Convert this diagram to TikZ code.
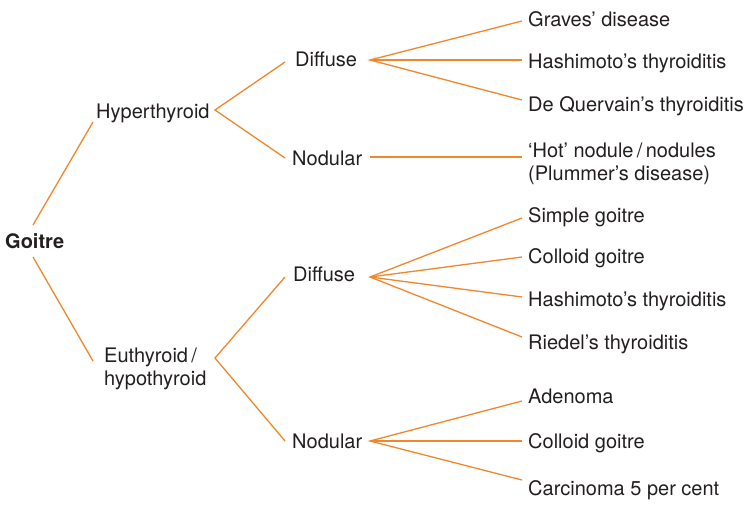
\documentclass[tikz,border=0pt]{standalone}
\usepackage{fontspec}
\setmainfont{TeX Gyre Heros}
\definecolor{lineor}{RGB}{240,135,45}
\definecolor{txt}{RGB}{35,31,32}
\begin{document}
\begin{tikzpicture}[x=1pt,y=-1pt,
  lbl/.style={anchor=base west,inner sep=0pt,text=txt,font=\fontsize{20}{22.5}\selectfont},
  conn/.style={draw=lineor,line width=1.3pt}]
\useasboundingbox (0,0) rectangle (750,506);
% nodes (multi-line nodes are placed by the baseline of their last line)
\node[lbl,font=\fontsize{20}{22.5}\selectfont\bfseries] (goitre) at (5,248) {Goitre};
\node[lbl] (hyper) at (96,118) {Hyperthyroid};
\node[lbl,align=left] (euthy) at (104,385) {Euthyroid\,/\\hypothyroid};
\node[lbl] (dif1) at (295,66) {Diffuse};
\node[lbl] (nod1) at (292,165) {Nodular};
\node[lbl] (dif2) at (293,281) {Diffuse};
\node[lbl] (nod2) at (292,448) {Nodular};
\node[lbl] (graves) at (528,26) {Graves’ disease};
\node[lbl] (hash1) at (528,68) {Hashimoto’s thyroiditis};
\node[lbl] (dequer) at (528,111) {De Quervain’s thyroiditis};
\node[lbl,align=left] (hot) at (528,180) {‘Hot’ nodule\,/\,nodules\\(Plummer’s disease)};
\node[lbl] (simple) at (528,222) {Simple goitre};
\node[lbl] (coll1) at (528,263) {Colloid goitre};
\node[lbl] (hash2) at (528,306) {Hashimoto’s thyroiditis};
\node[lbl] (riedel) at (528,349) {Riedel’s thyroiditis};
\node[lbl] (adenoma) at (528,403) {Adenoma};
\node[lbl] (coll2) at (528,448) {Colloid goitre};
\node[lbl] (carc) at (528,495) {Carcinoma 5 per cent};
% connector end points
\coordinate (goitreT) at (33,225);
\coordinate (goitreB) at (33,257);
\coordinate (hyperL) at (93,122);
\coordinate (hyperR) at (215,110);
\coordinate (euthyL) at (93,361);
\coordinate (euthyR) at (215,358);
\coordinate (dif1L) at (285,62);
\coordinate (dif1R) at (370,60);
\coordinate (nod1L) at (285,158);
\coordinate (nod1R) at (370,157);
\coordinate (dif2L) at (285,277);
\coordinate (dif2R) at (370,277);
\coordinate (nod2L) at (285,441);
\coordinate (nod2R) at (370,441);
\coordinate (gravesL) at (522,21);
\coordinate (hash1L) at (522,60);
\coordinate (dequerL) at (522,100);
\coordinate (hotL) at (522,157);
\coordinate (simpleL) at (522,218);
\coordinate (coll1L) at (522,257);
\coordinate (hash2L) at (522,297);
\coordinate (riedelL) at (522,337);
\coordinate (adenomaL) at (522,401);
\coordinate (coll2L) at (522,441);
\coordinate (carcL) at (522,480);
% connectors
\draw[conn] (goitreT) -- (hyperL);
\draw[conn] (goitreB) -- (euthyL);
\draw[conn] (dif1L) -- (hyperR) -- (nod1L);
\draw[conn] (dif2L) -- (euthyR) -- (nod2L);
\draw[conn] (gravesL) -- (dif1R) -- (dequerL);
\draw[conn] (dif1R) -- (hash1L);
\draw[conn] (nod1R) -- (hotL);
\draw[conn] (simpleL) -- (dif2R) -- (riedelL);
\draw[conn] (dif2R) -- (coll1L);
\draw[conn] (dif2R) -- (hash2L);
\draw[conn] (adenomaL) -- (nod2R) -- (carcL);
\draw[conn] (nod2R) -- (coll2L);
\end{tikzpicture}
\end{document}
